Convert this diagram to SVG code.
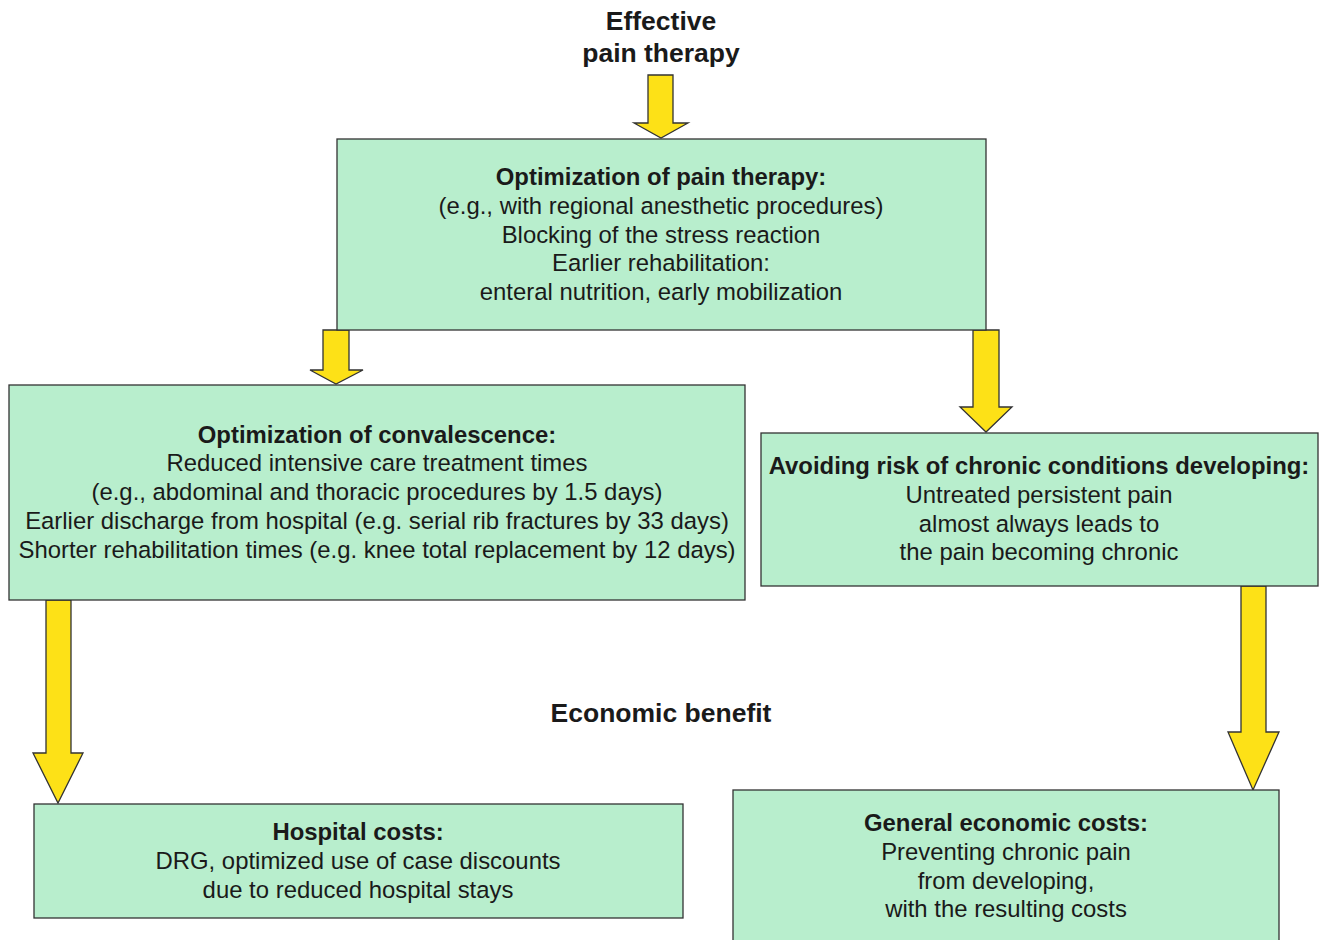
<svg xmlns="http://www.w3.org/2000/svg" width="1320" height="940" viewBox="0 0 1320 940">
<style>
.box{fill:#b8eecd;stroke:#333;stroke-width:1.3}
.arr{fill:#fde117;stroke:#333;stroke-width:1.3;stroke-linejoin:miter}
text{font-family:"Liberation Sans",Arial,sans-serif;font-size:23.9px;fill:#1a1a1a;text-anchor:middle}
.b{font-weight:bold}
.t{font-size:26.5px}
</style>
<rect width="1320" height="940" fill="#fff"/>
<g id="connectors">
<polygon class="arr" points="648,75 673,75 673,123 688,123 661,138 634,123 648,123"/>
<polygon class="arr" points="323,330 349,330 349,370 363,370 336,384 310,370 323,370"/>
<polygon class="arr" points="973,330 999,330 999,407 1012,407 986,432 960,407 973,407"/>
<polygon class="arr" points="46,600 71,600 71,753 83,753 58,803 33,753 46,753"/>
<polygon class="arr" points="1241,586 1266,586 1266,732 1279,732 1253,790 1228,732 1241,732"/>
</g>
<g id="title">
<text class="b t" x="661" y="30">Effective</text>
<text class="b t" x="661" y="62">pain therapy</text>
</g>
<g id="node-top">
<rect class="box" x="337" y="139" width="649" height="191"/>
<text class="b" x="661" y="185">Optimization of pain therapy:</text>
<text x="661" y="214">(e.g., with regional anesthetic procedures)</text>
<text x="661" y="243">Blocking of the stress reaction</text>
<text x="661" y="271">Earlier rehabilitation:</text>
<text x="661" y="300">enteral nutrition, early mobilization</text>
</g>
<g id="node-convalescence">
<rect class="box" x="9" y="385" width="736" height="215"/>
<text class="b" x="377" y="443">Optimization of convalescence:</text>
<text x="377" y="471">Reduced intensive care treatment times</text>
<text x="377" y="500">(e.g., abdominal and thoracic procedures by 1.5 days)</text>
<text x="377" y="529">Earlier discharge from hospital (e.g. serial rib fractures by 33 days)</text>
<text x="377" y="558">Shorter rehabilitation times (e.g. knee total replacement by 12 days)</text>
</g>
<g id="node-chronic">
<rect class="box" x="761" y="433" width="557" height="153"/>
<text class="b" x="1039" y="474">Avoiding risk of chronic conditions developing:</text>
<text x="1039" y="503">Untreated persistent pain</text>
<text x="1039" y="532">almost always leads to</text>
<text x="1039" y="560">the pain becoming chronic</text>
</g>
<g id="label-economic">
<text class="b t" x="661" y="722">Economic benefit</text>
</g>
<g id="node-hospital">
<rect class="box" x="34" y="804" width="649" height="114"/>
<text class="b" x="358" y="840">Hospital costs:</text>
<text x="358" y="869">DRG, optimized use of case discounts</text>
<text x="358" y="898">due to reduced hospital stays</text>
</g>
<g id="node-general">
<rect class="box" x="733" y="790" width="546" height="170"/>
<text class="b" x="1006" y="831">General economic costs:</text>
<text x="1006" y="860">Preventing chronic pain</text>
<text x="1006" y="889">from developing,</text>
<text x="1006" y="917">with the resulting costs</text>
</g>
</svg>
